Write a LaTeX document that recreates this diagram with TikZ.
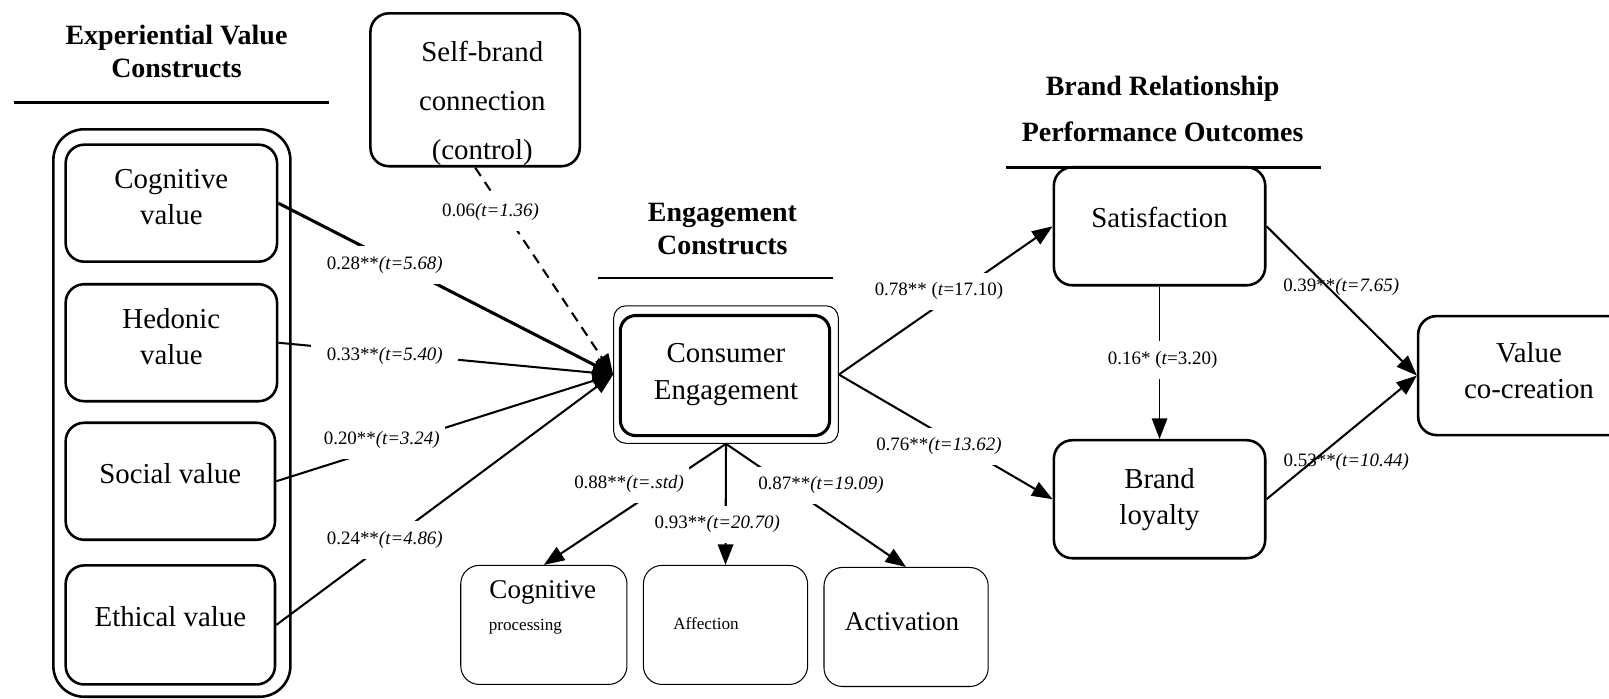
\documentclass[tikz,border=0pt]{standalone}
\usepackage{fontspec}
\setmainfont{Liberation Serif}
\usetikzlibrary{arrows.meta,calc}
\def\pathval#1#2{#1\textit{(t=#2)}}
\tikzset{
  box/.style={draw, rounded corners=3.6mm, line width=0.5mm, inner sep=0pt, align=center, font=\fontsize{16}{20}\selectfont},
  raised/.style={text depth=3.2mm},
  thinbox/.style={draw, rounded corners=3.6mm, line width=0.2mm, inner sep=0pt},
  heading/.style={align=center, font=\fontsize{15.5}{18.5}\selectfont\bfseries},
  coef/.style={fill=white, inner xsep=1mm, inner ysep=2mm, font=\fontsize{10.5}{12}\selectfont},
  link/.style={line width=0.4mm, -{Triangle[length=4mm,width=3mm]}},
}

\begin{document}
\begin{tikzpicture}[x=0.2mm, y=-0.2mm]
	\useasboundingbox (0,0) rectangle (1568,681);
	
	% headings
	\node[heading] (evhead) at (172,50) {Experiential Value\\Constructs};
	\draw[line width=0.5mm] (14,100) -- (321,100);
	\node[heading] (enghead) at (704,223) {Engagement\\Constructs};
	\draw[line width=0.5mm] (583,271) -- (812,271);
	\node[heading, font=\fontsize{15.5}{25.5}\selectfont\bfseries] (brhead) at (1133,106) {Brand Relationship\\Performance Outcomes};
	\draw[line width=0.5mm] (980,163) -- (1287,163);
	
	% experiential value constructs
	\draw[line width=0.5mm, rounded corners=6mm] (52,126) rectangle (283,679);
	\node[box, text depth=2.5mm, minimum width=41.2mm, minimum height=22.8mm] (cv) at (167,198) {Cognitive\\value};
	\node[box, text depth=2.5mm, minimum width=41.2mm, minimum height=22.8mm] (hv) at (167,334) {Hedonic\\value};
	\node[box, raised, minimum width=40.8mm, minimum height=22.8mm] (sv) at (166,469) {Social value};
	\node[box, raised, minimum width=40.8mm, minimum height=23.2mm] (ev) at (166,609) {Ethical value};
	
	% control
	\node[box, minimum width=40.8mm, minimum height=29.8mm] (sb) at (463,87.5) {};
	\node[align=center, font=\fontsize{16}{27.3}\selectfont] (sbtext) at (470,101) {Self-brand\\connection\\(control)};
	
	% engagement
	\node[box, line width=0.2mm, rounded corners=2.4mm, minimum width=43.8mm, minimum height=26.8mm] (ce) at (707.5,365) {Consumer\\Engagement};
	\draw[line width=0.6mm, rounded corners=3mm] ([shift={(7,10)}]ce.north west) rectangle ([shift={(-9,-8)}]ce.south east);
	
	\node[thinbox, minimum width=32.4mm, minimum height=23.2mm] (cogp) at (530,609) {};
	\node[font=\fontsize{15}{18}\selectfont] (cogptext) at (529,577) {Cognitive};
	\node[font=\fontsize{9.5}{11}\selectfont] (proctext) at (512,611) {processing};
	\node[thinbox, minimum width=32mm, minimum height=23.2mm] (aff) at (707,609) {};
	\node[font=\fontsize{9.5}{11}\selectfont] (afftext) at (688,608) {Affection};
	\node[thinbox, minimum width=32mm, minimum height=23.2mm] (act) at (883,611) {};
	\node[font=\fontsize{15}{18}\selectfont] (acttext) at (879,606) {Activation};
	
	% outcomes
	\node[box, text depth=3.6mm, minimum width=41.2mm, minimum height=23mm] (sat) at (1130,220.5) {Satisfaction};
	\node[box, minimum width=41.2mm, minimum height=23mm] (bl) at (1130,486.5) {Brand\\loyalty};
	\node[box, text depth=1.9mm, minimum width=43.2mm, minimum height=23.2mm] (vc) at (1490,366) {Value\\co-creation};
	
	% paths
	\draw[link, line width=0.6mm] (cv.east) -- (ce.west);
	\draw[link] (hv.east) -- (ce.west);
	\draw[link] (sv.east) -- (ce.west);
	\draw[link] (ev.east) -- (ce.west);
	\draw[link, dash pattern=on 2mm off 1.4mm] (sb.south) -- (ce.west);
	
	\draw[link] (ce.south) -- (cogp.north);
	\draw[link] (ce.south) -- (aff.north);
	\draw[link] (ce.south) -- (act.north);
	
	\draw[link] (ce.east) -- (sat.west);
	\draw[link] (ce.east) -- (bl.west);
	\draw[link, line width=0.3mm] (sat.south) -- (bl.north);
	\draw[link] (sat.east) -- (vc.west);
	\draw[link] (bl.east) -- (vc.west);
	
	% estimates
	\node[coef] (c28) at (375,258) {\pathval{0.28**}{5.68}};
	\node[coef, inner xsep=3mm] (c33) at (375,347) {\pathval{0.33**}{5.40}};
	\node[coef] (c20) at (372,429) {\pathval{0.20**}{3.24}};
	\node[coef] (c24) at (375,526) {\pathval{0.24**}{4.86}};
	\node[coef] (c06) at (478,207) {\pathval{0.06}{1.36}};
	\node[coef] (c88) at (613,472) {\pathval{0.88**}{.std}};
	\node[coef] (c93) at (699,511) {\pathval{0.93**}{20.70}};
	\node[coef] (c87) at (800,473) {\pathval{0.87**}{19.09}};
	\node[coef] (c78) at (915,284) {0.78** (\textit{t}=17.10)};
	\node[coef] (c76) at (915,435) {\pathval{0.76**}{13.62}};
	\node[coef] (c16) at (1133,351) {0.16* (\textit{t}=3.20)};
	\node[coef, fill=none] (c39) at (1307,280) {\pathval{0.39**}{7.65}};
	\node[coef, fill=none] (c53) at (1312,450) {\pathval{0.53**}{10.44}};
\end{tikzpicture}
\end{document}
